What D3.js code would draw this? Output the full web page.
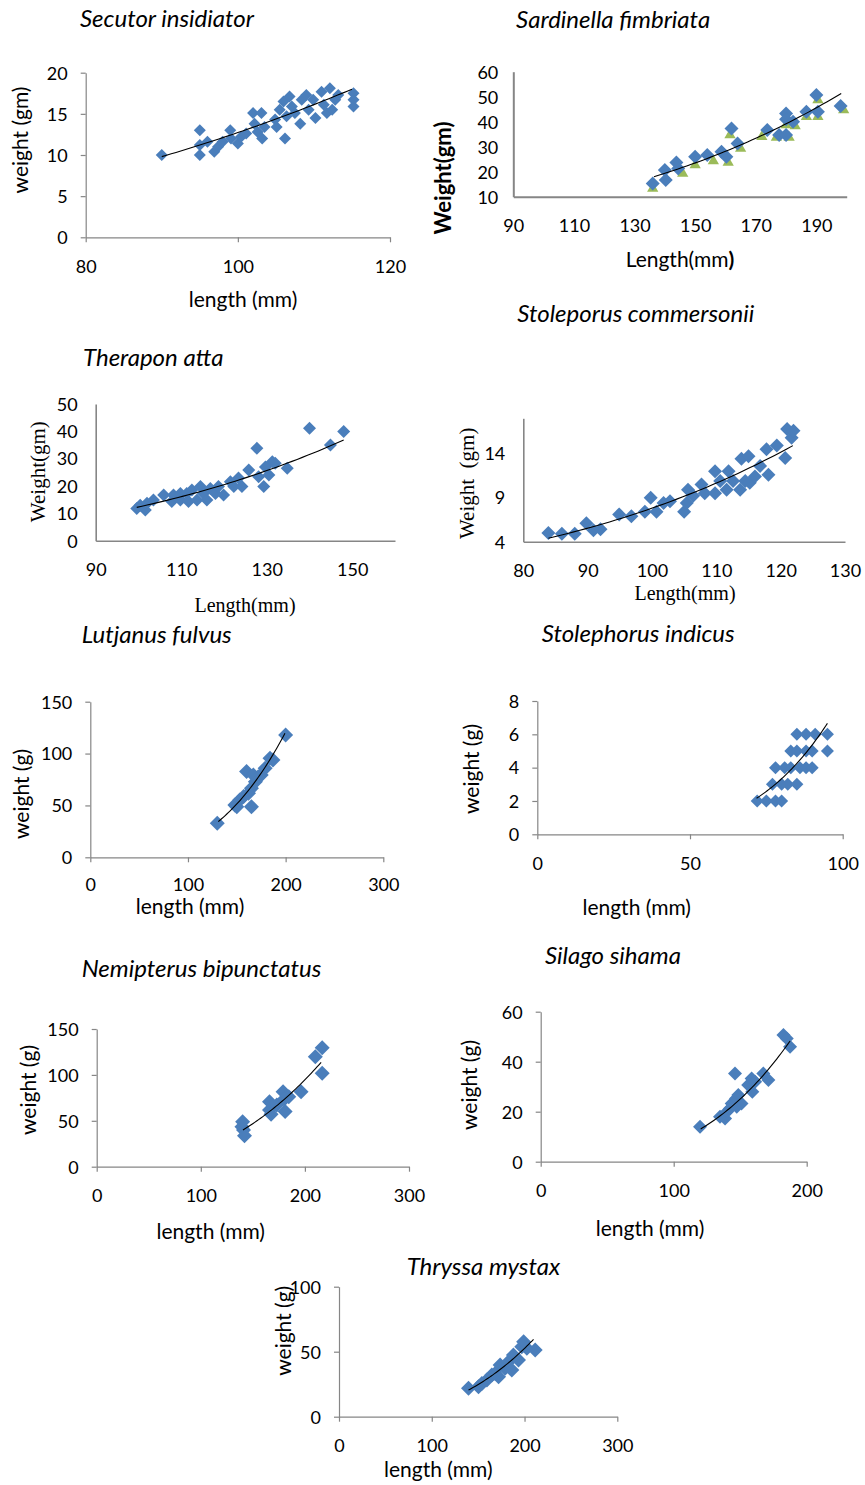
<!DOCTYPE html>
<meta charset="utf-8">
<style>
body { margin: 0; background: #fff; }
svg { display: block; }
</style>
<body>
<div id="chart"></div>
<script src="https://d3js.org/d3.v7.min.js"></script>
<script>

var width = 865,
    height = 1485;

// length (mm), weight (g)
var secutor = [[90,10],[95,13],[95,10],[95,11.2],[96,11.6],[96.9,10.4],[97.4,11],[98,11.6],
    [99,13],[99.1,12],[100,11.4],[100.4,12.2],[101.1,12.6],[102,15.1],[102.2,13.8],[102.6,12.8],
    [103.1,15.1],[103.2,12],[103.5,13.4],[104.9,14.3],[105.1,13.4],[105.5,15.5],[106,16.5],
    [106.2,12],[106.4,14.7],[106.8,17.1],[107.1,15.9],[107.5,15.1],[108.2,13.8],[108.4,16.7],
    [109,17.3],[109.3,15.5],[109.9,16.7],[110.2,14.5],[111,17.7],[111.3,16.1],[111.7,15.1],
    [112.1,18.1],[112.4,15.5],[112.8,16.7],[113.2,17.3],[115.2,17.5],[115.2,16.7],[115.2,15.9]];
var secutorTrend = [[90,9.8],[115,18]];

var sardinella = [[136,15.3],[140,20.7],[140.3,16.7],[143.8,23.7],[144.4,21.3],[150,26],
    [154,26.7],[158.7,28],[160.3,26],[162,37.3],[164,31.3],[173.8,36.7],[177.7,34.7],
    [180,43.3],[180,41],[180,34.7],[182.3,40],[186.7,44],[190,50.7],[190.5,44],[198,46.3]];
var sardinellaTri = [[136,13.3],[145.9,19.3],[150,22.7],[156,24.3],[160.9,23.7],[161.5,34.7],
    [165,29.3],[172,34],[176.8,33.7],[180,38.7],[181,33.7],[183,38.3],[186.7,42],[190.5,42],
    [190.5,48.7],[199,44.7]];
var sardinellaTrend = [[136.4,18],[198.2,51.3]];

var therapon = [[99.6,11.8],[100.4,13],[101.6,11.2],[102,13.7],[103.5,14.9],[105.9,16.7],
    [107.8,14.3],[108.2,16.7],[109.8,14.9],[109.8,17.3],[111.3,17.3],[111.7,14.3],[112.5,18.5],
    [113.7,14.9],[114.5,19.8],[115.2,17.3],[116,14.9],[116.8,19.1],[118,17.3],[118.7,19.8],
    [119.9,16.7],[121.5,21.6],[122.3,19.8],[123.4,22.9],[124.2,19.8],[125.8,25.9],[127.7,33.8],
    [128.1,23.4],[129.3,19.8],[129.7,27],[130.5,24],[131.3,28.9],[132,28.3],[134.8,26.5],
    [140,41.1],[144.9,35],[148,39.9]];
var theraponTrend = [[99.6,12.2],[148,36.8]];

var stoleporus = [[83.9,5],[86,4.9],[88,4.9],[89.8,6.1],[90.9,5.3],[92,5.4],[94.9,7.1],
    [96.8,6.9],[98.9,7.4],[99.8,9],[100.7,7.4],[101.8,8.4],[102.8,8.6],[105,7.4],[105.4,8.4],
    [105.6,9.9],[106.4,9.2],[107.7,10.5],[108.2,9.5],[109.8,12],[109.8,9.5],[110.6,10.9],
    [111.6,9.9],[111.9,12],[112.6,10.9],[113.7,9.9],[113.9,13.4],[114.5,10.9],[115,13.7],
    [115.2,10.7],[116,11.4],[116.8,12.6],[117.8,14.5],[118.1,11.6],[119.4,14.9],[120.7,13.5],
    [121,16.8],[121.7,15.8],[122,16.6]];
var stoleporusTrend = [[83.9,4.4],[121.9,14.9]];

var lutjanus = [[130,32.8],[148,50.4],[150,48.8],[153,55.3],[157,58.5],[160,82.6],[162,61.7],
    [165,48.8],[165,66.5],[167,79.3],[169,72.9],[172,77.7],[175,79.3],[179,85.8],[184,95.4],
    [187,93.8],[200,117.9]];
var lutjanusTrend = [[131,34.4],[199.3,119.5]];

var stolephorus = [[72,2],[75,2],[78,2],[80,2],[77,3],[80,3],[82,3],[85,3],[78,4],[81,4],
    [83,4],[86,4],[88,4],[90,4],[83,5],[85,5],[88,5],[90,5],[95,5],[85,6],[88,6],[91,6],[95,6]];
var stolephorusTrend = [[71.8,2.16],[95,6.66]];

var nemipterus = [[140.2,49],[139.5,43.6],[141,40],[142,33.8],[166,70.8],[166,61.8],
    [167.5,57],[173,67.2],[179,81.7],[180.3,73.7],[181,60],[184.5,76.3],[196.3,81.7],
    [210,119.9],[216.6,129.7],[216.6,101.7]];
var nemipterusTrend = [[140.5,40],[215.6,113.7]];

var silago = [[119.8,14],[134.8,18],[138.6,17.3],[140,20],[142.4,21.3],[143.6,23.3],
    [146.1,35.3],[146.9,25.3],[147.4,22],[148.6,26.7],[151,23.3],[156,30.7],[158.6,33.3],
    [159.1,28],[161.2,32],[167.4,35.3],[171.2,32.7],[182.5,50.7],[185,49.3],[187.5,46]];
var silagoTrend = [[120.3,13.1],[187.5,48.3]];

var thryssa = [[139.6,21.8],[150.4,23],[154,25.6],[159.4,28.2],[164.7,32],[168.3,33.3],
    [172,30.8],[173.7,39.7],[179,37.2],[182.7,42.3],[186.3,35.9],[188,47.4],[193.5,43.6],
    [197,53.8],[199,57.7],[202.5,52.6],[211.5,51.3]];
var thryssaTrend = [[139.6,20.5],[209.7,59.5]];

// tick labels
var ticks0to300 = [0, 100, 200, 300];
var ticks0to150 = [0, 50, 100, 150];

var sans = "Lato, 'Open Sans', sans-serif",
    serif = "'Liberation Serif', 'DejaVu Serif', serif";

var panels = [
  {title: "Secutor insidiator", tx: 80, ty: 19, data: secutor, trend: secutorTrend, r: 6,
   xDomain: [80, 120], xTicks: [80, 100, 120], yDomain: [0, 20], yTicks: [0, 5, 10, 15, 20],
   left: 85.7, right: 390, top: 72.7, bottom: 237.3, tick: 5, axisW: 1.2,
   xTitle: "length (mm)", xx: 243, xy: 300, yTitle: "weight (gm)", yx: 21, yy: 140},
  {title: "Sardinella fimbriata", tx: 516, ty: 20, data: sardinella, tri: sardinellaTri,
   trend: sardinellaTrend, r: 7,
   xDomain: [90, 200], xTicks: [90, 110, 130, 150, 170, 190], yDomain: [10, 60],
   yTicks: [10, 20, 30, 40, 50, 60], left: 513.3, right: 846.7, top: 71.7, bottom: 196.7,
   tick: 0, axisW: 2, yGap: 15,
   xTitle: "Length(mm", xTail: ")", xx: 680, xy: 260, yTitle: "Weight(gm)", yBold: true,
   yx: 443, yy: 178},
  {title: "Therapon atta", tx: 83, ty: 358, data: therapon, trend: theraponTrend, r: 6.5,
   xDomain: [90, 160], xTicks: [90, 110, 130, 150], yDomain: [0, 50],
   yTicks: [0, 10, 20, 30, 40, 50], left: 95.7, right: 395, top: 404, bottom: 540.7,
   tick: 0, axisW: 1.6,
   xTitle: "Length(mm)", xx: 245, xy: 605, yTitle: "Weight(gm)", yx: 38, yy: 471.7,
   titleFont: serif},
  {title: "Stoleporus commersonii", tx: 517.3, ty: 313.3, data: stoleporus,
   trend: stoleporusTrend, r: 7,
   xDomain: [80, 130], xTicks: [80, 90, 100, 110, 120, 130], yDomain: [4, 18],
   yTicks: [4, 9, 14], left: 523.3, right: 845, top: 418.3, bottom: 541.7, tick: 0, axisW: 1.6,
   xTitle: "Length(mm)", xx: 685, xy: 593.3, yTitle: "Weight  (gm)", yx: 466.7, yy: 483.3,
   titleFont: serif},
  {title: "Lutjanus fulvus", tx: 81.7, ty: 634.3, data: lutjanus, trend: lutjanusTrend, r: 7.5,
   xDomain: [0, 300], xTicks: ticks0to300, yDomain: [0, 150], yTicks: ticks0to150,
   left: 90.3, right: 383.3, top: 701.7, bottom: 857.3, tick: 5, axisW: 1.2, xGap: 27,
   xTitle: "length (mm)", xx: 190, xy: 907, yTitle: "weight (g)", yx: 21.7, yy: 794},
  {title: "Stolephorus indicus", tx: 541.7, ty: 633.3, data: stolephorus,
   trend: stolephorusTrend, r: 6.5,
   xDomain: [0, 100], xTicks: [0, 50, 100], yDomain: [0, 8], yTicks: [0, 2, 4, 6, 8],
   left: 537.3, right: 842.7, top: 701, bottom: 834.3, tick: 5, axisW: 1.2,
   xTitle: "length (mm)", xx: 636.7, xy: 907.7, yTitle: "weight (g)", yx: 471.7, yy: 769},
  {title: "Nemipterus bipunctatus", tx: 81.7, ty: 968.3, data: nemipterus,
   trend: nemipterusTrend, r: 7.5,
   xDomain: [0, 300], xTicks: ticks0to300, yDomain: [0, 150], yTicks: ticks0to150,
   left: 96.7, right: 409, top: 1029, bottom: 1166.7, tick: 5, axisW: 1.2,
   xTitle: "length (mm)", xx: 210.7, xy: 1232, yTitle: "weight (g)", yx: 28.3, yy: 1090},
  {title: "Silago sihama", tx: 545, ty: 955.7, data: silago, trend: silagoTrend, r: 7,
   xDomain: [0, 200], xTicks: [0, 100, 200], yDomain: [0, 60], yTicks: [0, 20, 40, 60],
   left: 540.7, right: 806.7, top: 1011.7, bottom: 1161.7, tick: 5, axisW: 1.2,
   xTitle: "length (mm)", xx: 650, xy: 1228.3, yTitle: "weight (g)", yx: 470, yy: 1085},
  {title: "Thryssa mystax", tx: 406.7, ty: 1266.7, data: thryssa, trend: thryssaTrend, r: 7.5,
   xDomain: [0, 300], xTicks: ticks0to300, yDomain: [0, 100], yTicks: [0, 50, 100],
   left: 339, right: 617.3, top: 1286.7, bottom: 1416.7, tick: 5, axisW: 1.2,
   xTitle: "length (mm)", xx: 438.3, xy: 1470, yTitle: "weight (g)", yx: 283.3, yy: 1330.8}
];

var svg = d3.select("#chart").append("svg")
    .attr("width", width)
    .attr("height", height);

var diamond = function(r) {
    return "M0," + (-r) + "L" + r + ",0L0," + r + "L" + (-r) + ",0Z";
};

panels.forEach(function(p) {
    var x = d3.scaleLinear().domain(p.xDomain).range([p.left, p.right]);
    var y = d3.scaleLinear().domain(p.yDomain).range([p.bottom, p.top]);
    var g = svg.append("g");

    // axes
    var xAxis = g.append("g")
        .attr("transform", "translate(0," + p.bottom + ")")
        .call(d3.axisBottom(x).tickValues(p.xTicks).tickSize(p.tick).tickSizeOuter(0));
    var yAxis = g.append("g")
        .attr("transform", "translate(" + p.left + ",0)")
        .call(d3.axisLeft(y).tickValues(p.yTicks).tickSize(p.tick).tickSizeOuter(0));

    [xAxis, yAxis].forEach(function(a) {
        a.select(".domain").attr("stroke", "#868686").attr("stroke-width", p.axisW);
        a.selectAll(".tick line").attr("stroke", "#868686").attr("stroke-width", 1.2);
        a.selectAll("text")
            .attr("font-family", sans)
            .attr("font-size", 18)
            .attr("fill", "#000");
    });
    xAxis.selectAll("text").attr("y", p.xGap || 29).attr("dy", "0.35em");
    yAxis.selectAll("text").attr("x", -(p.yGap || 18)).attr("dy", "0.35em");

    // markers
    if (p.tri) {
        g.selectAll(".tri").data(p.tri).enter().append("path")
            .attr("class", "tri")
            .attr("d", d3.symbol(d3.symbolTriangle, 55))
            .attr("transform", function(d) { return "translate(" + x(d[0]) + "," + y(d[1]) + ")"; })
            .attr("fill", "#9bbb59");
    }
    g.selectAll(".pt").data(p.data).enter().append("path")
        .attr("class", "pt")
        .attr("d", diamond(p.r))
        .attr("transform", function(d) { return "translate(" + x(d[0]) + "," + y(d[1]) + ")"; })
        .attr("fill", "#4a7ebb");

    // power trend line through the two end points
    var t0 = p.trend[0], t1 = p.trend[1];
    var b = Math.log(t1[1] / t0[1]) / Math.log(t1[0] / t0[0]);
    var a = t0[1] / Math.pow(t0[0], b);
    var curve = d3.range(0, 41).map(function(i) {
        var L = t0[0] + (t1[0] - t0[0]) * i / 40;
        return [L, a * Math.pow(L, b)];
    });
    g.append("path")
        .datum(curve)
        .attr("fill", "none")
        .attr("stroke", "#000")
        .attr("stroke-width", 1.1)
        .attr("d", d3.line().x(function(d) { return x(d[0]); }).y(function(d) { return y(d[1]); }));

    // titles
    g.append("text")
        .attr("x", p.tx).attr("y", p.ty).attr("dy", "0.35em")
        .attr("font-family", sans).attr("font-style", "italic").attr("font-size", 24)
        .text(p.title);

    var tf = p.titleFont || sans;
    var xt = g.append("text")
        .attr("x", p.xx).attr("y", p.xy).attr("dy", "0.35em")
        .attr("text-anchor", "middle")
        .attr("font-family", tf).attr("font-size", p.titleFont ? 20 : 21)
        .text(p.xTitle);
    if (p.xTail) xt.append("tspan").attr("font-weight", "bold").text(p.xTail);

    g.append("text")
        .attr("transform", "translate(" + p.yx + "," + p.yy + ") rotate(-90)")
        .attr("dy", "0.35em")
        .attr("text-anchor", "middle")
        .attr("font-family", tf).attr("font-size", p.yBold ? 22 : 21)
        .attr("font-weight", p.yBold ? "bold" : "normal")
        .style("white-space", "pre")
        .text(p.yTitle);
});
</script>
